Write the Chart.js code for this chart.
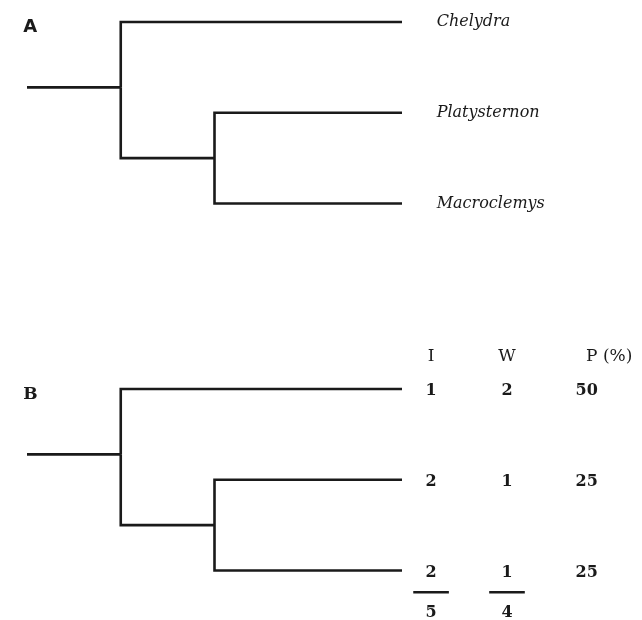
<!DOCTYPE html>
<html>
<head>
<meta charset="utf-8">
<script src="https://cdn.jsdelivr.net/npm/chart.js@4.4.1/dist/chart.umd.min.js"></script>
<style>
  html, body { margin: 0; padding: 0; background: #fff; }
  #wrap { width: 642px; height: 620px; position: relative; }
</style>
</head>
<body>
<div id="wrap"><canvas id="tree"></canvas></div>
<script>
// tree data (depth in branch units, row = tip index)
const taxa = ['Chelydra', 'Platysternon', 'Macroclemys'];
const tipParent = ['root', 'inner', 'inner'];
const tipDepth = [4, 4, 4];
const nodeIds = ['root', 'inner'];
const nodeParent = [null, 'root'];
const nodeDepth = [1, 2];
const nodeRow = [0.72, 1.5];
const stemDepth = 0;

// table for panel B
const colHeads = ['I', 'W', 'P (%)'];
const valI = [1, 2, 2];
const valW = [2, 1, 1];
const valP = [50, 25, 25];

// layout (in scale units)
const L = {
    rowB: 4.044,
    tipLabelX: 4.37,
    colX: [4.31, 5.12, 5.97],
    headX: [4.31, 5.12, 6.21],
    headRow: -0.36,
    numShift: 0.025,
    ruleRow: 2.24,
    totalRow: 2.47,
    ruleHalf: 0.19,
    panelX: -0.04,
    panelY: 0.06
};
const INK = '#1a1a1a';

function edgesFor(rowOff) {
    const sets = [];
    const idx = id => nodeIds.indexOf(id);
    const line = pts => ({
        data: pts.map(p => ({ x: p[0], y: p[1] + rowOff })),
        showLine: true,
        borderColor: INK,
        borderWidth: 2.6,
        pointRadius: 0,
        borderJoinStyle: 'miter',
        clip: false
    });
    // stem
    sets.push(line([[stemDepth, nodeRow[0]], [nodeDepth[0], nodeRow[0]]]));
    // internal node edges
    nodeIds.forEach((id, i) => {
        if (!nodeParent[i]) return;
        const p = idx(nodeParent[i]);
        sets.push(line([[nodeDepth[p], nodeRow[p]], [nodeDepth[p], nodeRow[i]], [nodeDepth[i], nodeRow[i]]]));
    });
    // tip edges
    taxa.forEach((t, r) => {
        const p = idx(tipParent[r]);
        sets.push(line([[nodeDepth[p], nodeRow[p]], [nodeDepth[p], r], [tipDepth[r], r]]));
    });
    return sets;
}

const labelsPlugin = {
    id: 'treeText',
    afterDraw(chart) {
        const { ctx, scales: { x, y } } = chart;
        const px = v => x.getPixelForValue(v);
        const py = v => y.getPixelForValue(v);
        ctx.save();
        ctx.fillStyle = INK;
        ctx.strokeStyle = INK;
        ctx.textBaseline = 'middle';

        // panel letters
        ctx.textAlign = 'left';
        ctx.font = 'bold 18px "DejaVu Sans"';
        ctx.fillText('A', px(L.panelX), py(L.panelY));
        ctx.font = 'bold 17px "DejaVu Serif"';
        ctx.fillText('B', px(L.panelX), py(L.rowB + L.panelY));

        // taxon names (panel A)
        ctx.font = 'italic 16px "DejaVu Serif"';
        taxa.forEach((t, r) => ctx.fillText(t, px(L.tipLabelX), py(r)));

        // table (panel B)
        ctx.textAlign = 'center';
        ctx.font = '17px "DejaVu Serif"';
        colHeads.forEach((h, c) => ctx.fillText(h, px(L.headX[c]), py(L.rowB + L.headRow)));
        ctx.font = 'bold 16px "DejaVu Serif"';
        [valI, valW, valP].forEach((col, c) => {
            col.forEach((v, r) => ctx.fillText(String(v), px(L.colX[c]), py(L.rowB + r + L.numShift)));
        });
        // sums under I and W
        ctx.lineWidth = 2.4;
        [valI, valW].forEach((col, c) => {
            const yy = py(L.rowB + L.ruleRow);
            ctx.beginPath();
            ctx.moveTo(px(L.colX[c] - L.ruleHalf), yy);
            ctx.lineTo(px(L.colX[c] + L.ruleHalf), yy);
            ctx.stroke();
            const sum = col.reduce((a, b) => a + b, 0);
            ctx.fillText(String(sum), px(L.colX[c]), py(L.rowB + L.totalRow));
        });
        ctx.restore();
    }
};

new Chart(document.getElementById('tree'), {
    type: 'scatter',
    data: { datasets: [...edgesFor(0), ...edgesFor(L.rowB)] },
    options: {
        responsive: true,
        maintainAspectRatio: false,
        animation: false,
        events: [],
        layout: { padding: 0 },
        plugins: { legend: { display: false }, tooltip: { enabled: false } },
        scales: {
            x: { type: 'linear', display: false, min: -0.288, max: 6.56 },
            y: { type: 'linear', display: false, reverse: true, min: -0.2424, max: 6.5896 }
        }
    },
    plugins: [labelsPlugin]
});
</script>
</body>
</html>
